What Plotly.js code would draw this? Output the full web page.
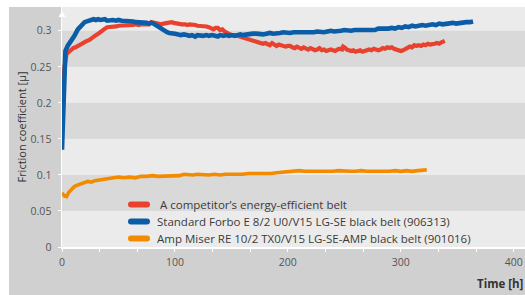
<!DOCTYPE html>
<html><head><meta charset="utf-8">
<script src="https://cdn.plot.ly/plotly-3.0.1.min.js"></script>
<style>html,body{margin:0;padding:0;background:#fff}#chart{width:525px;height:295px}</style>
</head><body><div id="chart"></div>
<script>
const seriesNames = ["\u00a0A competitor\u2019s energy-efficient belt", "Standard Forbo E 8/2 U0/V15 LG-SE black belt (906313)", "Amp Miser RE 10/2 TX0/V15 LG-SE-AMP black belt (901016)"];
const seriesColors = ["#e8422f", "#0b5da8", "#f28b00"];

const competitorT = [0,1,2,4,7,10,12,14,16,18,20,22,24,26,28,30,33,35,38,40,43,45,48,50,53,55,58,60,63,65,68,70,73,75,77,79,81,83,86,88,90,92,95,97,99,101,104,106,109,111,113,115,118,120,123,125,128,130,132,134,136,138,140,142,144,146,148,150,153,155,158,160,163,166,168,170,172,174,176,178,180,182,184,186,188,190,192,194,196,198,200,202,204,206,208,210,212,214,216,218,220,222,224,226,228,230,232,234,236,238,240,242,244,246,248,249,251,252,254,256,258,260,262,264,266,268,270,272,274,276,278,280,282,284,286,288,290,292,294,296,298,300,302,304,306,308,310,312,314,316,318,320,322,324,326,328,330,332,334,336,338,339];
const competitorV = [0.208,0.230,0.248,0.268,0.273,0.276,0.277,0.279,0.280,0.283,0.284,0.286,0.287,0.290,0.291,0.294,0.297,0.300,0.303,0.305,0.305,0.306,0.306,0.307,0.307,0.308,0.307,0.308,0.308,0.309,0.308,0.309,0.309,0.310,0.309,0.312,0.311,0.310,0.310,0.309,0.310,0.311,0.311,0.312,0.311,0.310,0.310,0.309,0.309,0.308,0.309,0.309,0.308,0.307,0.307,0.306,0.306,0.305,0.303,0.302,0.304,0.304,0.301,0.302,0.299,0.297,0.296,0.294,0.294,0.293,0.293,0.291,0.290,0.289,0.288,0.286,0.286,0.284,0.283,0.282,0.283,0.281,0.280,0.283,0.280,0.279,0.281,0.280,0.278,0.278,0.279,0.279,0.277,0.276,0.278,0.276,0.275,0.277,0.275,0.274,0.276,0.275,0.273,0.274,0.276,0.273,0.274,0.272,0.273,0.274,0.273,0.272,0.274,0.275,0.274,0.278,0.276,0.274,0.273,0.272,0.273,0.271,0.272,0.273,0.271,0.272,0.273,0.274,0.273,0.275,0.274,0.273,0.274,0.276,0.275,0.277,0.276,0.277,0.275,0.274,0.273,0.272,0.273,0.275,0.276,0.278,0.277,0.280,0.279,0.280,0.279,0.281,0.280,0.282,0.281,0.281,0.282,0.283,0.282,0.284,0.285,0.286];

const standardT = [0,1,2,3,5,8,11,14,17,20,22,24,26,28,30,32,34,36,38,40,43,45,48,50,53,55,58,60,63,65,68,70,73,75,77,79,81,83,85,87,89,91,93,95,98,100,103,105,108,110,113,115,118,120,123,125,128,130,133,135,138,140,143,145,148,150,153,155,158,160,163,166,169,172,175,178,181,184,187,190,193,196,199,202,205,208,211,214,217,220,223,226,229,232,235,238,241,244,247,250,253,256,259,262,265,268,271,274,277,280,283,286,289,292,295,298,301,304,307,310,313,316,319,322,325,328,331,334,337,340,343,346,349,352,355,358,361,364];
const standardV = [0.135,0.180,0.240,0.272,0.279,0.285,0.293,0.302,0.308,0.312,0.313,0.314,0.315,0.316,0.315,0.316,0.315,0.316,0.316,0.314,0.315,0.315,0.314,0.315,0.314,0.314,0.313,0.314,0.313,0.312,0.312,0.311,0.312,0.311,0.310,0.311,0.310,0.308,0.306,0.303,0.301,0.299,0.298,0.297,0.297,0.296,0.295,0.294,0.295,0.294,0.293,0.294,0.292,0.294,0.293,0.293,0.294,0.293,0.294,0.293,0.292,0.294,0.293,0.294,0.293,0.294,0.293,0.294,0.295,0.294,0.295,0.295,0.296,0.296,0.295,0.295,0.296,0.297,0.296,0.296,0.297,0.298,0.297,0.297,0.298,0.298,0.297,0.298,0.298,0.297,0.298,0.299,0.298,0.298,0.299,0.300,0.299,0.299,0.300,0.301,0.300,0.300,0.301,0.301,0.302,0.301,0.302,0.302,0.301,0.303,0.303,0.302,0.303,0.304,0.303,0.305,0.304,0.306,0.305,0.307,0.306,0.307,0.308,0.307,0.308,0.309,0.308,0.310,0.309,0.310,0.310,0.311,0.310,0.311,0.311,0.312,0.312,0.313];

const ampMiserT = [0,2,4,6,8,11,14,17,20,23,26,29,33,37,41,45,50,55,60,65,70,75,80,85,90,95,100,104,108,112,116,120,125,130,135,140,145,150,155,160,165,170,175,180,185,190,195,200,205,210,215,220,225,230,235,240,245,250,255,260,265,270,275,280,285,290,295,300,305,310,315,318,323];
const ampMiserV = [0.075,0.071,0.070,0.076,0.079,0.084,0.086,0.088,0.089,0.091,0.090,0.092,0.093,0.094,0.095,0.096,0.097,0.096,0.097,0.096,0.098,0.098,0.099,0.098,0.098,0.099,0.098,0.099,0.101,0.100,0.100,0.101,0.100,0.100,0.101,0.100,0.101,0.101,0.100,0.101,0.102,0.102,0.101,0.102,0.102,0.103,0.104,0.104,0.106,0.106,0.105,0.105,0.105,0.104,0.105,0.105,0.106,0.105,0.105,0.105,0.106,0.105,0.105,0.105,0.104,0.105,0.106,0.105,0.106,0.105,0.106,0.106,0.107];

const xTickVals = [0,100,200,300,400];
const xTickText = ["0","100","200","300","400"];
const yTickVals = [0,0.05,0.1,0.15,0.2,0.25,0.3];
const yTickText = ["0","0.05","0.1","0.15","0.2","0.25","0.3"];
const darkBands = [[0.05,0.1],[0.15,0.2],[0.25,0.3]];
const xTitle = "Time [h]";
const yTitle = "Friction coefficient [\u00b5]";

const traces = [
  {x: competitorT, y: competitorV, name: seriesNames[0], line: {color: seriesColors[0], width: 4.2}},
  {x: standardT, y: standardV, name: seriesNames[1], line: {color: seriesColors[1], width: 4.6}},
  {x: ampMiserT, y: ampMiserV, name: seriesNames[2], line: {color: seriesColors[2], width: 3.6}}
].map(t => Object.assign({type: 'scatter', mode: 'lines', hoverinfo: 'skip', showlegend: false}, t));

// plot area geometry in pixels (for legend placement)
const PL = 62, PW = 463, PT = 7, PH = 240;
const px2x = p => (p - PL) / PW;
const px2y = p => (PT + PH - p) / PH;

const shapes = [
  {type: 'rect', xref: 'paper', yref: 'paper', x0: px2x(9), x1: 1, y0: px2y(295), y1: 1, fillcolor: '#d0d0d0', line: {width: 0}, layer: 'below'},
  {type: 'rect', xref: 'paper', yref: 'paper', x0: 0, x1: 1, y0: 0, y1: 1, fillcolor: '#ebebeb', line: {width: 0}, layer: 'below'}
];
darkBands.forEach(b => shapes.push({type: 'rect', xref: 'paper', yref: 'y', x0: 0, x1: 1, y0: b[0], y1: b[1], fillcolor: '#d9d9d9', line: {width: 0}, layer: 'below'}));
shapes.push({type: 'path', xref: 'paper', yref: 'paper', xsizemode: 'pixel', ysizemode: 'pixel', xanchor: 0, yanchor: 1,
  path: 'M -3.5,-10 L 3.5,-10 L 0,-4 Z', fillcolor: '#ffffff', line: {width: 0}});

const font = "'Open Sans', 'Noto Sans', sans-serif";
const annotations = [
  {text: '<b>' + xTitle + '</b>', xref: 'paper', yref: 'paper', x: 1, xanchor: 'right', y: px2y(283), yanchor: 'middle', showarrow: false,
    font: {family: font, size: 11.5, color: '#333333'}}
];
// legend (drawn inside the plot, transparent)
const legendRowsY = [204.5, 221.5, 238.5];
seriesNames.forEach((name, i) => {
  shapes.push({type: 'path', xref: 'paper', yref: 'paper', xsizemode: 'pixel', ysizemode: 'pixel',
    xanchor: px2x(128), yanchor: px2y(legendRowsY[i]),
    path: 'M 3,-3 L 19,-3 Q 22,-3 22,0 Q 22,3 19,3 L 3,3 Q 0,3 0,0 Q 0,-3 3,-3 Z',
    fillcolor: seriesColors[i], line: {width: 0}});
  annotations.push({text: name, xref: 'paper', yref: 'paper', x: px2x(155), xanchor: 'left', y: px2y(legendRowsY[i]), yanchor: 'middle',
    showarrow: false, font: {family: font, size: 11.5, color: '#3a3a3a'}});
});

const layout = {
  width: 525, height: 295,
  margin: {l: PL, r: 525 - PL - PW, t: PT, b: 295 - PT - PH},
  paper_bgcolor: '#ffffff', plot_bgcolor: '#ebebeb',
  font: {family: font, size: 10.5, color: '#555555'},
  showlegend: false,
  xaxis: {range: [0, 410], tickmode: 'array', tickvals: xTickVals, ticktext: xTickText, ticks: 'outside', ticklen: 3, tickcolor: '#ffffff', tickwidth: 1,
    showline: true, linecolor: '#ffffff', linewidth: 1.5, showgrid: false, zeroline: false, fixedrange: true, ticklabelstandoff: 2,
    minor: {tickmode: 'linear', tick0: 0, dtick: 100/3, ticks: 'outside', ticklen: 3, tickcolor: '#ffffff', tickwidth: 1, showgrid: false}},
  yaxis: {range: [0, 0.333], tickmode: 'array', tickvals: yTickVals, ticktext: yTickText, ticks: 'outside', ticklen: 3, tickcolor: '#ffffff', tickwidth: 1,
    showline: true, linecolor: '#ffffff', linewidth: 1.5, showgrid: false, zeroline: false, fixedrange: true, ticklabelstandoff: 4,
    title: {text: yTitle, font: {family: font, size: 11, color: '#333333'}, standoff: 2}},
  shapes: shapes,
  annotations: annotations
};
Plotly.newPlot('chart', traces, layout, {staticPlot: true, displayModeBar: false});
</script></body></html>
